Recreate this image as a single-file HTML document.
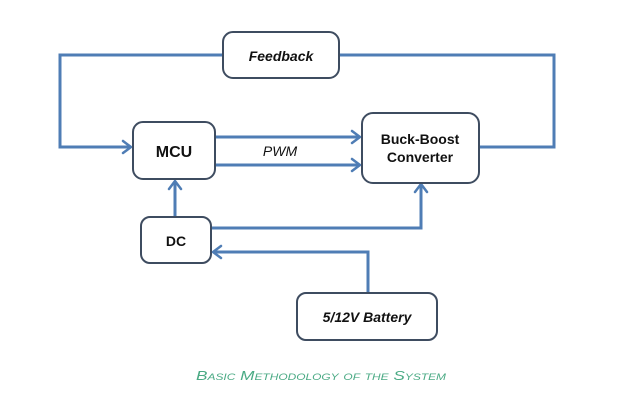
<!DOCTYPE html>
<html><head><meta charset="utf-8"><style>
html,body{margin:0;padding:0;background:#fff;width:619px;height:407px;overflow:hidden}
svg{display:block}
text{font-family:"Liberation Sans","DejaVu Sans",sans-serif;fill:#111}
</style></head><body>
<svg width="619" height="407" viewBox="0 0 619 407" xmlns="http://www.w3.org/2000/svg">
<g fill="none" stroke="#4f7db5" stroke-width="3">
<polyline points="223,55 60,55 60,147 131,147"/>
<polyline points="339,55 554,55 554,147 479,147"/>
<line x1="215" y1="137" x2="360" y2="137"/>
<line x1="215" y1="165" x2="360" y2="165"/>
<line x1="175" y1="217" x2="175" y2="182"/>
<polyline points="211,228 421,228 421,185"/>
<polyline points="368,293 368,252 213,252"/>
</g>
<g fill="none" stroke="#4f7db5" stroke-width="2.5" stroke-linecap="round" stroke-linejoin="round">
<polyline points="123,141 131,147 123,153"/>
<polyline points="352,131 360,137 352,143"/>
<polyline points="352,159 360,165 352,171"/>
<polyline points="169,189 175,181 181,189"/>
<polyline points="415,192 421,184 427,192"/>
<polyline points="221,246 213,252 221,258"/>
</g>
<g fill="#fff" stroke="#3e4c60" stroke-width="2">
<rect x="223" y="32" width="116" height="46" rx="10"/>
<rect x="133" y="122" width="82" height="57" rx="10"/>
<rect x="362" y="113" width="117" height="70" rx="11"/>
<rect x="141" y="217" width="70" height="46" rx="9"/>
<rect x="297" y="293" width="140" height="47" rx="9"/>
</g>
<text x="281" y="61" font-size="14" font-style="italic" font-weight="bold" text-anchor="middle">Feedback</text>
<text x="174" y="157" font-size="16" font-weight="bold" text-anchor="middle">MCU</text>
<text x="420" y="144" font-size="14" font-weight="bold" text-anchor="middle">Buck-Boost</text>
<text x="420" y="162" font-size="14" font-weight="bold" text-anchor="middle">Converter</text>
<text x="176" y="246" font-size="14" font-weight="bold" text-anchor="middle">DC</text>
<text x="367" y="322" font-size="14" font-style="italic" font-weight="bold" text-anchor="middle">5/12V Battery</text>
<text x="280" y="156" font-size="14" font-style="italic" text-anchor="middle">PWM</text>
<text x="196" y="380" font-size="13" font-style="italic" textLength="250" lengthAdjust="spacingAndGlyphs" style="fill:#4aaa84;font-variant:small-caps">Basic Methodology of the System</text>
</svg>
</body></html>
